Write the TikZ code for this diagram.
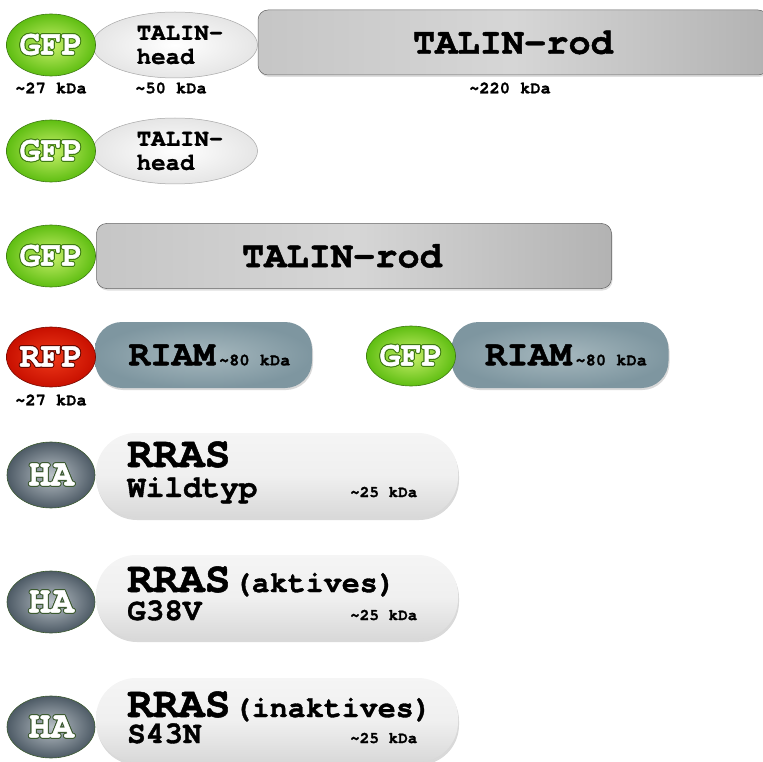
\documentclass[tikz,border=0pt]{standalone}
\usepackage{fontspec}
\usepackage{contour}
\usetikzlibrary{shapes.geometric,shadows}
\newfontfamily\cour{TeX Gyre Cursor}[BoldFeatures={FakeBold=1.2}]
\newcommand\tld{\char"7E\relax}
\newcommand\fs[1]{\fontsize{#1}{#1}\selectfont}
\definecolor{gfpin}{HTML}{C8F06A}
\definecolor{gfpout}{HTML}{5FBE12}
\definecolor{gfpdark}{HTML}{3E7A12}
\definecolor{rfpin}{HTML}{F03A1A}
\definecolor{rfpout}{HTML}{C81000}
\definecolor{hain}{HTML}{B8C0C6}
\definecolor{haout}{HTML}{4E5B66}
\definecolor{hadark}{HTML}{3C5A30}
\definecolor{riamin}{HTML}{A6B8BE}
\definecolor{riamout}{HTML}{7E96A0}
\contourlength{1pt}
\contournumber{10}
\tikzset{
  tag/.style={ellipse,draw=#1,line width=0.6pt,minimum width=88pt,minimum height=62pt,inner sep=0pt,text=white,font=\cour\bfseries\fs{35}},
  gfp/.style={tag=gfpdark,shading=radial,inner color=gfpin,outer color=gfpout},
  rfp/.style={tag=rfpout!60!black,shading=radial,inner color=rfpin,outer color=rfpout},
  ha/.style={tag=hadark,minimum height=62pt,font=\cour\bfseries\fs{38},shading=radial,inner color=hain,outer color=haout},
  head/.style={ellipse,draw=gray!70,line width=0.5pt,inner color=white,outer color=gray!20,shading=radial,minimum width=165pt,minimum height=66pt,inner sep=0pt,font=\cour\bfseries\fs{24},align=left},
  rod/.style={rectangle,rounded corners=10pt,draw=gray!80!black,line width=0.5pt,left color=gray!45,right color=gray!60,middle color=gray!32,minimum height=65pt,inner sep=0pt,font=\cour\bfseries\fs{37},drop shadow={opacity=0.25,shadow xshift=1pt,shadow yshift=-2pt}},
  riam/.style={rectangle,rounded corners=27pt,draw=none,shading=radial,inner color=riamin,outer color=riamout,minimum width=217pt,minimum height=66pt,inner sep=0pt,font=\cour\bfseries,drop shadow={opacity=0.3,shadow xshift=1pt,shadow yshift=-2pt}},
  rras/.style={rectangle,rounded corners=40pt,draw=none,top color=gray!8,bottom color=gray!30,middle color=gray!12,minimum width=362pt,minimum height=84pt,inner sep=0pt,drop shadow={opacity=0.3,shadow xshift=1pt,shadow yshift=-3pt}},
  kda/.style={font=\cour\bfseries\fs{17},inner sep=0pt},
  kdb/.style={font=\cour\bfseries\fs{16},inner sep=0pt,anchor=base west},
  big/.style={font=\cour\bfseries\fs{43},inner sep=0pt,anchor=base west},
  suf/.style={font=\cour\bfseries\fs{30},inner sep=0pt,anchor=base west},
  mid/.style={font=\cour\bfseries\fs{31},inner sep=0pt,anchor=base west},
}
\begin{document}
\begin{tikzpicture}[x=1pt,y=-1pt]
\useasboundingbox (0,0) rectangle (763,762);
% row 1
\node[rod,minimum width=510pt] (rod1) at (513,42.5) {TALIN-rod};
\node[head] (head1) at (175,45) {\hspace*{10pt}TALIN-\\\hspace*{10pt}head};
\node[gfp] (gfp1) at (51,45) {\contour{gfpdark}{GFP}};
\node[kda] (k1) at (51,88) {\tld27 kDa};
\node[kda] (k2) at (171,88) {\tld50 kDa};
\node[kda] (k3) at (510,88) {\tld220 kDa};
% row 2
\node[head] (head2) at (175,151) {\hspace*{10pt}TALIN-\\\hspace*{10pt}head};
\node[gfp] (gfp2) at (51,151) {\contour{gfpdark}{GFP}};
% row 3
\node[rod,minimum width=515pt] (rod2) at (354,256) {TALIN-rod\hspace*{24pt}};
\node[gfp] (gfp3) at (51,256) {\contour{gfpdark}{GFP}};
% row 4
\node[riam] (riam1) at (203.5,355) {\hspace*{12pt}\fs{36}RIAM\hspace{4pt}\fs{17}\tld80 kDa};
\node[rfp,minimum height=60pt] (rfp) at (51,357) {\contour{rfpout!50!black}{RFP}};
\node[kda] (k4) at (51,400) {\tld27 kDa};
\node[riam] (riam2) at (560,355) {\hspace*{12pt}\fs{36}RIAM\hspace{4pt}\fs{17}\tld80 kDa};
\node[gfp,minimum height=60pt] (gfp4) at (411,356) {\contour{gfpdark}{GFP}};
% row 5
\node[rras] (boxa) at (277,475) {};
\node[ha,minimum height=66pt] (haa) at (51,475) {\contour{hadark}{HA}};
\node[big] (ta) at (127,467) {RRAS};
\node[mid] (wa) at (127,497) {Wildtyp};
\node[kdb] (ma) at (350,497) {\tld25 kDa};
% row 6
\node[rras] (boxb) at (277,597) {};
\node[ha] (hab) at (51,602) {\contour{hadark}{HA}};
\node[big] (tb) at (127,592) {RRAS};
\node[suf] (sb) at ([xshift=3pt]tb.base east) {(aktives)};
\node[mid] (wb) at (127,620) {G38V};
\node[kdb] (mb) at (350,620) {\tld25 kDa};
% row 7
\node[rras] (boxc) at (277,720) {};
\node[ha] (hac) at (51,727) {\contour{hadark}{HA}};
\node[big] (tc) at (127,717) {RRAS};
\node[suf] (sc) at ([xshift=3pt]tc.base east) {(inaktives)};
\node[mid] (wc) at (127,743) {S43N};
\node[kdb] (mc) at (350,743) {\tld25 kDa};
\end{tikzpicture}
\end{document}
